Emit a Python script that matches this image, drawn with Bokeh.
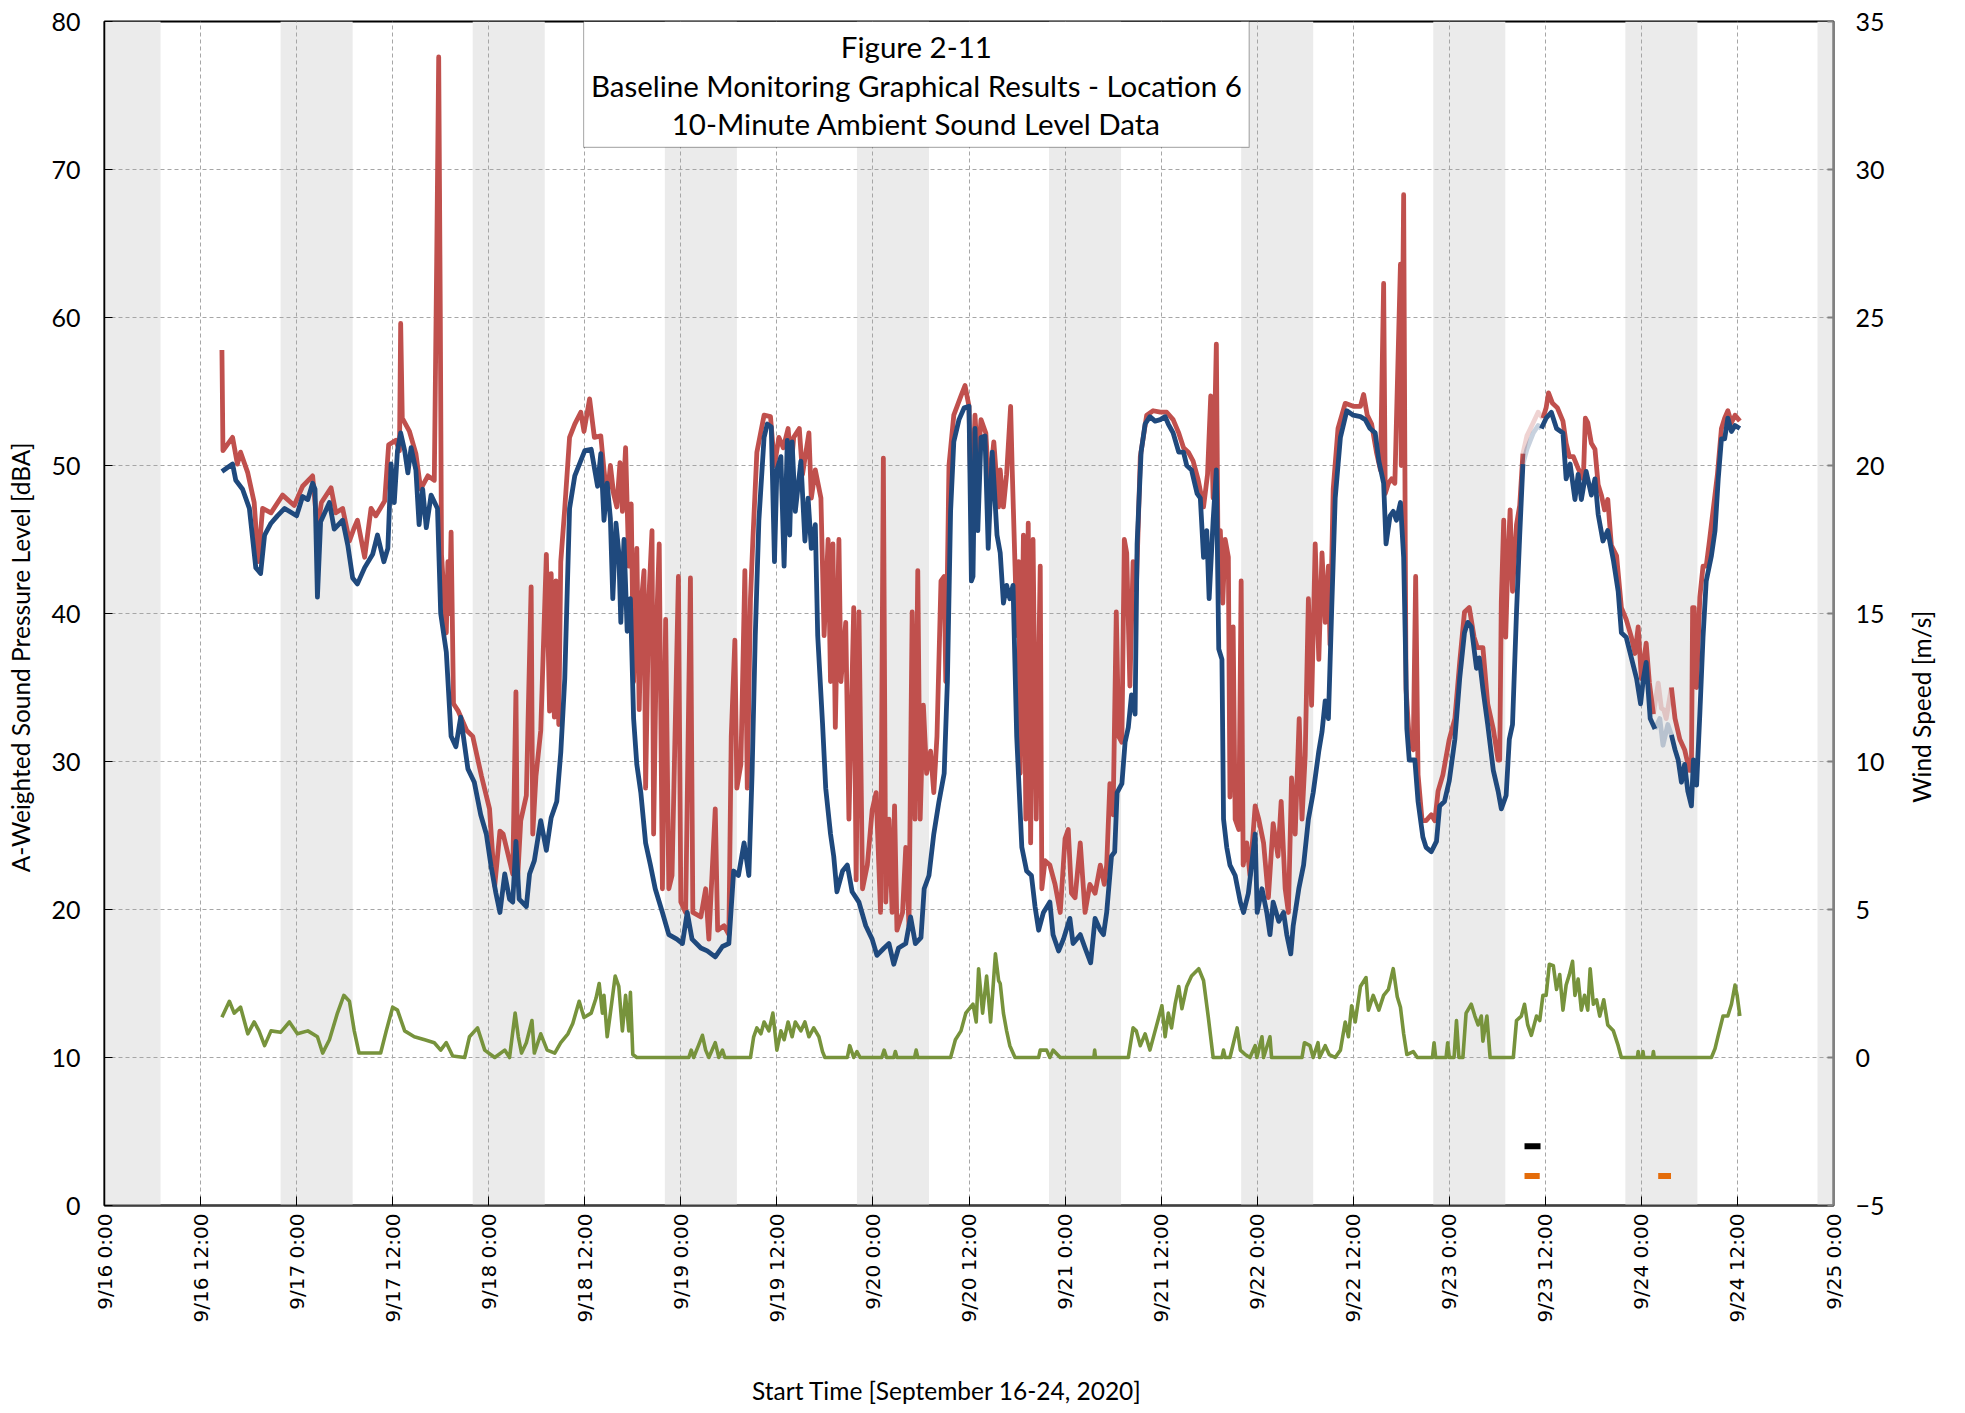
import math
import numpy as np
from bokeh.plotting import figure
from bokeh.layouts import row
from bokeh.models import Range1d, LinearAxis, FixedTicker, BoxAnnotation, Label
from bokeh.embed import file_html
from bokeh.resources import INLINE

# ---------------- data (hours since 9/16 0:00) ----------------
blue_h = [14.67, 16.0, 16.4, 17.25, 18.1, 18.9, 19.5, 20.0, 20.8, 21.6, 22.5, 24.0, 24.75, 25.4, 26.0, 26.3, 26.6, 27.0,
          28.1, 28.7, 29.75, 30.4, 31.0, 31.6, 32.5, 33.5, 34.1, 34.9, 35.4, 35.8, 36.2, 36.6, 37.0, 37.5, 37.9, 38.3,
          38.9, 39.3, 39.75, 40.2, 40.8, 41.6, 42.0, 42.7, 43.3, 43.9, 44.5, 45.4, 46.2, 47.0, 47.7, 48.3, 48.9, 49.4,
          50.0, 50.6, 51.0, 51.4, 51.8, 52.7, 53.1, 53.7, 54.5, 55.2, 55.8, 56.5, 57.0, 57.5, 58.1, 58.75, 60.0, 60.8,
          61.6, 62.0, 62.4, 62.8, 63.2, 63.5, 63.9, 64.25, 64.5, 64.9, 65.3, 65.7, 66.1, 66.5, 67.0, 67.6, 68.2, 68.8,
          69.7, 70.5, 71.5, 72.2, 72.8, 73.4, 74.5, 75.3, 76.3, 77.2, 78.0, 78.6, 79.2, 79.9, 80.5, 80.9, 81.3, 81.75,
          82.4, 82.8, 83.3, 83.7, 84.0, 84.5, 84.9, 85.3, 85.6, 85.9, 86.3, 87.0, 87.5, 87.9, 88.3, 88.8, 89.1, 89.7,
          90.1, 90.7, 91.1, 91.5, 92.2, 92.8, 93.4, 94.25, 95.1, 95.9, 96.5, 97.4, 98.0, 98.6, 99.2, 100.1, 100.7,
          101.3, 102.0, 102.4, 103.0, 103.6, 104.25, 104.9, 105.3, 105.7, 106.1, 106.75, 107.4, 108.0, 108.3, 108.5,
          108.75, 109.1, 109.5, 110.0, 110.4, 110.9, 111.5, 111.9, 112.3, 112.7, 113.1, 113.5, 113.96, 114.6, 115.2,
          115.8, 116.25, 116.7, 117.3, 118.1, 118.5, 119.2, 119.8, 120.6, 121.0, 121.9, 122.5, 123.2, 123.75, 124.4,
          124.8, 125.2, 125.8, 126.2, 126.5, 127.1, 127.5, 127.9, 128.3, 128.75, 129.0, 129.5, 130.0, 130.6, 131.25,
          131.9, 132.5, 132.9, 133.5, 134.2, 134.8, 135.2, 135.8, 136.5, 136.9, 137.3, 137.7, 138.0, 138.5, 138.9,
          139.2, 139.6, 139.8, 140.2, 140.6, 141.25, 141.9, 142.3, 142.9, 143.75, 144.0, 144.6, 145.2, 145.6, 146.0,
          146.7, 147.3, 147.7, 148.2, 148.5, 149.2, 149.8, 150.4, 151.0, 151.7, 152.1, 152.5, 152.9, 153.3, 153.75,
          154.4, 155.2, 156.0, 156.9, 157.5, 158.1, 158.75, 159.2, 159.8, 160.1, 160.6, 161.0, 161.4, 161.9, 162.3,
          162.5, 162.7, 163.0, 163.7, 164.1, 164.7, 165.1, 165.75, 166.4, 166.8, 167.4, 168.0, 168.7, 169.3, 169.9,
          170.3, 170.75, 171.4, 171.75, 172.2, 172.8, 173.5, 174.1, 174.5, 175.1, 175.5, 175.9, 176.4, 176.8, 177.2,
          177.7, 178.5, 179.1, 179.5, 180.1, 180.75, 181.4, 182.2, 182.6, 183.1, 183.7, 184.1, 184.5, 185.1, 185.75,
          186.2, 186.6, 187.2, 187.8, 188.5, 189.1, 189.5, 190.1, 190.75, 191.4, 191.9, 192.25, 192.6, 193.1, 193.7,
          194.3, 194.7, 195.3, 195.75, 196.2, 196.6, 197.0, 197.4, 197.8, 198.25, 198.5, 198.9, 199.3, 199.7, 200.1,
          200.75, 201.2, 201.6, 202.0, 202.4, 202.8, 203.25, 203.7, 204.3]
blue_db = [49.6, 50.1, 49.0, 48.4, 47.1, 43.1, 42.7, 45.3, 46.1, 46.6, 47.1, 46.6, 47.9, 47.7, 48.8, 48.4, 41.1, 46.2,
           47.5, 45.7, 46.3, 44.6, 42.4, 42.0, 43.1, 44.0, 45.3, 43.5, 44.4, 50.1, 47.5, 51.0, 52.2, 51.0, 49.5, 51.2,
           49.7, 46.0, 48.4, 45.8, 48.0, 47.1, 40.0, 37.4, 31.7, 31.0, 33.0, 29.5, 28.6, 26.4, 25.1, 22.9, 21.1, 19.8,
           22.4, 20.7, 20.5, 24.6, 20.7, 20.2, 22.4, 23.3, 26.0, 24.0, 26.2, 27.3, 30.6, 35.6, 47.1, 49.3, 51.0, 51.1,
           48.6, 50.8, 46.3, 48.8, 46.4, 41.0, 46.1, 44.1, 39.4, 45.0, 38.8, 41.0, 32.9, 29.8, 27.9, 24.5, 23.0, 21.4,
           19.8, 18.3, 18.0, 17.7, 19.8, 18.0, 17.4, 17.2, 16.8, 17.5, 17.7, 22.6, 22.3, 24.5, 22.3, 29.2, 38.5, 46.3,
           51.9, 52.8, 52.6, 43.5, 49.7, 50.6, 43.2, 51.7, 45.3, 51.6, 46.9, 50.3, 44.9, 47.8, 44.4, 46.0, 38.5, 32.6,
           28.2, 25.1, 23.6, 21.2, 22.6, 23.0, 21.2, 20.5, 18.9, 18.0, 16.9, 17.4, 17.7, 16.3, 17.4, 17.7, 19.5,
           17.7, 18.1, 21.4, 22.3, 25.1, 27.3, 29.2, 35.4, 46.9, 51.6, 53.1, 53.9, 54.0, 42.2, 42.5,
           52.5, 45.6, 51.9, 52.0, 44.4, 50.9, 45.3, 44.1, 40.7, 41.9, 41.0, 41.9, 31.7, 24.2, 22.6,
           22.3, 20.2, 18.6, 19.8, 20.5, 18.3, 17.2, 18.0, 19.4, 17.7, 18.3, 17.4, 16.4, 19.4, 18.6,
           18.3, 19.8, 23.6, 23.9, 27.9, 28.5, 31.3, 32.3, 34.5, 33.2, 44.7, 50.9, 52.8, 53.3, 53.0,
           53.1, 53.3, 52.8, 52.2, 50.9, 50.9, 50.0, 49.7, 48.1, 47.8, 43.8, 45.6, 41.0, 46.3, 49.7,
           37.6, 36.9, 26.1, 24.2, 23.0, 22.3, 20.5, 19.8, 21.1, 25.1, 19.8, 21.4, 19.8, 18.3, 20.5,
           19.2, 19.8, 18.3, 17.0, 18.9, 21.4, 23.0, 26.1, 27.9, 30.7, 32.0, 34.1, 32.9, 40.1, 47.8,
           51.9, 53.7, 53.4, 53.3, 53.1, 52.5, 52.2, 50.3, 48.8, 44.7, 46.6, 46.9, 46.3, 47.5, 43.8,
           38.4, 32.2, 30.1, 30.1, 27.3, 24.9, 24.2, 23.9, 24.6, 27.0, 27.3, 28.7, 31.5, 35.6, 38.7,
           39.4, 39.1, 36.3, 37.0, 34.9, 32.5, 29.4, 28.0, 26.8, 27.7, 31.5, 32.5, 40.1, 45.3, 50.1,
           51.1, 52.2, 52.7, 52.5, 53.2, 53.6, 52.5, 52.2, 49.1, 50.1, 47.7, 49.4, 47.7, 49.6, 48.0,
           49.1, 46.7, 44.9, 45.6, 43.6, 41.5, 38.7, 38.4, 37.0, 35.6, 33.9, 35.6, 36.7, 32.9, 32.2,
           32.9, 31.1, 32.5, 31.8, 30.8, 30.1, 28.6, 29.8, 28.0, 27.0, 30.1, 28.4, 33.2, 38.4, 42.2,
           43.9, 45.6, 49.1, 51.8, 51.8, 53.2, 52.3, 52.7, 52.5]

red_h = [14.67, 14.8, 16.0, 16.6, 17.0, 17.9, 18.7, 19.2, 19.75, 20.8, 22.25, 23.7, 24.75, 26.0, 26.6, 27.1, 28.3, 28.9,
         29.75, 30.6, 31.2, 31.6, 32.5, 33.3, 33.9, 35.0, 35.5, 36.4, 36.85, 37.0, 37.2, 38.1, 38.9, 39.5, 40.4, 41.2,
         41.5, 41.75, 41.95, 42.1, 42.7, 42.9, 43.1, 43.3, 43.6, 44.2, 45.25, 46.0, 47.1, 48.1, 48.75, 49.4, 49.8, 51.0,
         51.4, 51.6, 52.0, 52.7, 53.3, 53.5, 53.9, 54.5, 55.2, 55.6, 55.8, 56.2, 56.4, 56.75, 57.0, 57.5, 58.1, 58.75,
         59.5, 59.9, 60.6, 61.2, 62.0, 62.4, 62.8, 63.2, 63.6, 64.0, 64.4, 64.7, 65.1, 65.5, 65.8, 66.1, 66.5, 66.8,
         67.1, 67.4, 67.6, 68.0, 68.4, 68.6, 69.0, 69.3, 69.7, 70.1, 70.5, 70.9, 71.7, 72.0, 72.6, 73.2, 73.5, 74.5,
         75.1, 75.5, 76.3, 76.6, 77.4, 78.0, 78.3, 78.75, 79.0, 79.5, 80.0, 80.3, 80.7, 81.0, 81.5, 82.4, 83.2, 83.7,
         84.25, 84.8, 85.4, 85.8, 86.1, 86.8, 87.2, 88.0, 88.3, 88.8, 89.5, 89.9, 90.4, 90.7, 91.0, 91.3, 91.75, 92.0,
         92.6, 93.0, 93.6, 93.9, 94.25, 94.7, 95.3, 95.9, 96.4, 96.95, 97.3, 97.6, 98.0, 98.4, 98.7, 99.0, 99.7,
         100.1, 100.5, 100.9, 101.25, 101.6, 101.9, 102.3, 102.7, 103.2, 103.6, 104.0, 104.5, 104.9, 105.1, 105.5,
         106.1, 107.0, 107.5, 108.0, 108.3, 108.75, 109.1, 109.5, 110.1, 110.5, 111.1, 111.7, 111.9, 112.3, 112.7,
         113.2, 113.4, 113.75, 114.0, 114.2, 114.4, 114.8, 115.1, 115.4, 115.7, 116.0, 116.4, 116.9, 117.1, 117.5,
         118.1, 118.75, 119.4, 120.0, 120.4, 120.8, 121.25, 121.9, 122.5, 123.1, 123.75, 124.4, 124.9, 125.2, 125.6,
         126.0, 126.4, 126.7, 127.1, 127.4, 127.7, 128.1, 128.5, 128.9, 129.4, 130.2, 131.0, 131.9, 132.7, 133.5,
         134.2, 134.8, 135.4, 136.0, 136.6, 137.3, 137.8, 138.2, 138.5, 138.9, 139.1, 139.4, 139.7, 140.0, 140.4,
         140.6, 141.0, 141.25, 141.7, 142.0, 142.25, 142.7, 143.1, 143.75, 144.2, 144.8, 145.4, 146.0, 146.6, 147.0,
         147.5, 147.9, 148.3, 148.75, 149.25, 149.6, 150.0, 150.4, 150.8, 151.25, 151.7, 152.1, 152.5, 152.9, 153.1,
         153.5, 154.1, 155.0, 156.0, 156.9, 157.3, 157.75, 158.3, 158.9, 159.4, 159.8, 160.0, 160.4, 160.8, 161.2,
         161.9, 162.0, 162.3, 162.5, 162.6, 163.0, 163.5, 163.8, 164.1, 164.6, 165.1, 165.75, 166.2, 166.6, 167.2,
         168.0, 168.7, 169.3, 169.9, 170.5, 171.1, 171.5, 172.2, 172.8, 173.5, 174.1, 174.3, 174.5, 174.8, 175.05,
         175.3, 175.6, 175.9, 176.4, 176.8, 177.2, 177.7, 178.5, 179.1, 179.7, 180.1, 180.4, 180.9, 181.5, 182.2,
         182.6, 183.0, 183.5, 184.1, 184.75, 185.0, 185.3, 185.75, 186.2, 186.6, 187.0, 187.4, 187.8, 188.25, 188.9,
         189.5, 190.1, 190.75, 191.2, 191.6, 192.0, 192.6, 193.0, 193.5, 194.1, 194.5, 194.8, 195.1, 195.75, 196.2,
         196.8, 197.4, 198.0, 198.25, 198.4, 198.6, 198.9, 199.3, 199.7, 200.1, 200.5, 200.9, 201.5, 202.0, 202.4,
         202.8, 203.25, 203.7, 204.3]
red_db = [57.8, 51.0, 51.9, 50.1, 50.9, 49.5, 47.5, 43.5, 47.1, 46.8, 48.0, 47.3, 48.6, 49.3, 45.7, 47.5, 48.5, 46.8,
          47.1, 44.9, 45.8, 46.3, 43.8, 47.1, 46.6, 47.6, 51.4, 51.7, 51.0, 59.6, 53.2, 52.3, 50.8, 48.4, 49.3, 49.0,
          63.8, 77.6, 60.2, 44.0, 38.7, 43.5, 40.0, 45.5, 33.9, 33.4, 32.1, 31.7, 29.0, 26.8, 21.6, 25.3, 25.1, 22.4,
          34.7, 22.0, 26.0, 27.7, 41.8, 25.1, 29.0, 32.1, 44.0, 33.4, 42.7, 33.0, 42.2, 32.5, 43.5, 47.1, 51.9, 52.8,
          53.6, 52.3, 54.5, 51.9, 52.0, 49.7, 47.8, 50.0, 48.1, 47.2, 50.2, 46.9, 51.2, 43.2, 47.4, 35.4, 44.4, 33.5,
          41.0, 42.9, 28.2, 41.0, 45.6, 25.1, 39.7, 44.7, 21.4, 39.6, 21.4, 22.3, 42.5, 20.5, 19.8, 42.4, 19.8, 19.5,
          21.4, 18.0, 26.8, 18.6, 18.9, 18.3, 31.7, 38.2, 28.2, 29.8, 42.9, 28.2, 41.0, 45.0, 50.9, 53.4, 53.3, 50.0,
          51.9, 51.2, 52.5, 50.0, 51.9, 52.5, 49.4, 52.2, 47.8, 49.7, 47.8, 38.5, 45.0, 35.4, 44.7, 32.3, 45.0, 35.4,
          39.4, 26.1, 40.4, 22.0, 40.1, 21.4, 23.0, 26.7, 27.9, 19.8, 50.5, 20.5, 26.1, 19.8, 27.0, 18.6, 19.8,
          24.2, 18.9, 40.1, 26.1, 42.9, 26.1, 33.8, 29.2, 30.7, 27.9, 31.7, 42.2, 42.5, 35.4, 50.0,
          53.4, 54.7, 55.4, 54.0, 46.3, 53.4, 50.0, 53.1, 52.2, 48.4, 51.6, 47.2, 49.7, 47.2, 49.4,
          54.0, 49.7, 43.2, 38.5, 43.5, 29.2, 45.3, 26.1, 46.1, 24.5, 45.0, 26.1, 43.2, 21.4, 23.3,
          23.0, 21.7, 19.8, 24.8, 25.4, 21.1, 20.8, 24.5, 19.8, 21.7, 21.1, 23.0, 21.7, 23.0, 28.5,
          26.4, 40.1, 31.7, 31.3, 45.0, 44.1, 35.1, 43.5, 41.6, 50.6, 53.4, 53.7, 53.6, 53.6, 53.1,
          52.2, 51.2, 50.9, 50.3, 49.1, 47.2, 49.4, 54.7, 47.8, 58.2, 44.7, 45.6, 40.7, 45.0, 43.8,
          27.6, 39.1, 26.1, 25.4, 42.2, 23.0, 24.5, 22.3, 27.0, 26.1, 24.5, 20.8, 25.8, 23.6, 27.3,
          21.4, 19.8, 28.9, 25.1, 32.9, 26.1, 30.4, 41.0, 33.8, 44.7, 36.9, 44.1, 39.4, 43.2, 37.9,
          48.4, 52.5, 54.2, 54.0, 54.0, 54.8, 53.4, 52.8, 50.9, 49.7, 62.3, 48.1, 48.8, 49.1, 48.8,
          63.6, 50.0, 68.3, 44.7, 34.9, 31.5, 30.8, 42.5, 29.1, 26.0, 26.0, 26.4, 26.0, 28.0, 29.1,
          31.5, 32.9, 36.7, 40.1, 40.4, 38.4, 37.7, 37.7, 33.9, 32.2, 30.1, 30.1, 40.8, 46.3, 38.4,
          43.2, 47.0, 41.5, 46.0, 47.3, 50.8, 52.0, 52.9, 53.6, 53.2, 53.9, 54.9, 54.2, 53.9, 53.0,
          51.5, 50.6, 50.6, 49.8, 49.1, 53.2, 52.9, 51.5, 51.1, 48.7, 48.0, 47.0, 47.7, 44.6, 43.9,
          40.4, 39.6, 38.4, 37.3, 39.1, 35.6, 38.0, 35.3, 33.2, 35.3, 33.6, 33.5, 32.9, 35.0, 32.9,
          31.5, 30.8, 29.4, 29.4, 40.4, 40.4, 35.0, 41.1, 43.2, 43.2, 44.9, 46.7, 49.4, 52.5, 53.2,
          53.7, 52.9, 53.4, 53.0]

wind_h = [14.67, 15.6, 16.2, 17.0, 17.9, 18.7, 19.3, 20.0, 20.8, 22.0, 23.1, 24.1, 25.4, 26.6, 27.25, 28.1, 29.1, 29.9,
          30.6, 31.2, 31.8, 34.5, 35.2, 36.0, 36.6, 37.5, 38.7, 40.0, 41.2, 42.0, 42.7, 43.5, 45.0, 45.6, 46.6, 47.5,
          48.75, 50.0, 50.6, 51.3, 51.7, 52.1, 52.7, 53.4, 53.7, 54.5, 55.3, 56.25, 57.0, 57.9, 58.5, 59.3, 59.9, 60.8,
          61.4, 61.8, 62.2, 62.4, 62.8, 63.2, 63.8, 64.25, 64.7, 65.1, 65.5, 65.7, 66.0, 66.5, 73.0, 73.3, 73.6, 74.2,
          74.7, 75.1, 75.5, 76.3, 76.75, 77.2, 77.5, 80.7, 81.1, 81.5, 82.0, 82.4, 83.0, 83.5, 84.0, 84.5, 84.9, 85.4,
          85.9, 86.3, 87.0, 87.5, 88.0, 88.6, 89.25, 89.7, 90.0, 92.8, 93.1, 93.6, 94.0, 94.4, 97.1, 97.4, 97.7, 98.6,
          98.8, 99.0, 101.2, 101.4, 101.6, 105.7, 106.3, 107.0, 107.6, 108.5, 108.9, 109.2, 109.7, 110.2, 110.7,
          111.3, 111.7, 111.9, 112.3, 112.7, 113.1, 113.75, 116.7, 116.9, 117.7, 118.1, 118.5, 119.4, 123.6, 123.7,
          123.8, 127.9, 128.5, 128.9, 129.4, 130.0, 130.6, 131.25, 132.1, 132.5, 132.9, 133.3, 133.75, 134.2, 134.6,
          135.2, 135.8, 136.7, 137.3, 137.9, 138.5, 139.6, 139.8, 140.0, 140.6, 141.5, 141.9, 142.5, 143.1, 143.75,
          143.96, 144.6, 144.8, 145.6, 145.8, 149.6, 149.9, 150.6, 151.0, 151.6, 151.8, 152.5, 153.0, 153.75, 154.4,
          155.0, 155.4, 155.8, 156.25, 156.9, 157.6, 157.9, 158.5, 159.2, 159.8, 160.4, 161.0, 161.5, 161.9, 162.3,
          162.7, 163.5, 164.0, 165.9, 166.1, 166.3, 167.6, 167.8, 168.0, 168.6, 168.9, 169.2, 169.7, 170.1, 170.75,
          171.2, 171.6, 172.0, 172.2, 172.7, 173.1, 176.0, 176.4, 177.0, 177.4, 177.8, 178.25, 178.9, 179.3, 179.7,
          180.1, 180.5, 181.0, 181.4, 181.8, 182.2, 182.6, 183.0, 183.4, 183.7, 184.1, 184.5, 184.9, 185.3, 185.6,
          186.0, 186.4, 186.8, 187.3, 187.8, 188.5, 189.1, 189.5, 191.5, 191.6, 191.7, 192.1, 192.2, 192.3, 193.4,
          193.5, 193.6, 200.75, 201.2, 201.6, 202.2, 202.8, 203.25, 203.7, 203.96, 204.3]
wind_ms = [1.36, 1.9, 1.5, 1.7, 0.8, 1.2, 0.9, 0.4, 0.9, 0.85, 1.2, 0.8, 0.9, 0.7, 0.15, 0.6, 1.5, 2.1,
           1.9, 0.9, 0.15, 0.15, 0.9, 1.7, 1.6, 0.9, 0.7, 0.6, 0.5, 0.25, 0.5, 0.05, 0.0, 0.7, 1.0, 0.25,
           0.0, 0.25, 0.0, 1.5, 0.7, 0.15, 0.5, 1.25, 0.15, 0.8, 0.25, 0.15, 0.5, 0.8, 1.15, 1.9, 1.35, 1.5,
           2.0, 2.5, 1.5, 2.1, 0.7, 1.5, 2.75, 2.4, 0.9, 2.1, 0.9, 2.2, 0.1, 0.0, 0.0, 0.25, 0.0, 0.4,
           0.75, 0.25, 0.0, 0.5, 0.0, 0.25, 0.0, 0.0, 0.7, 1.0, 0.8, 1.2, 0.9, 1.5, 0.25, 0.9, 0.6, 1.2,
           0.7, 1.2, 0.9, 1.2, 0.7, 1.0, 0.7, 0.2, 0.0, 0.0, 0.4, 0.0, 0.2, 0.0, 0.0, 0.25, 0.0, 0.0,
           0.2, 0.0, 0.0, 0.25, 0.0, 0.0, 0.6, 0.9, 1.5, 1.8, 1.2, 3.0, 1.5, 2.75, 1.2,
           3.5, 2.6, 2.5, 1.5, 0.9, 0.4, 0.0, 0.0, 0.25, 0.25, 0.0, 0.25, 0.0, 0.0, 0.25,
           0.0, 0.0, 1.0, 0.9, 0.4, 0.8, 0.25, 0.9, 1.75, 0.7, 1.5, 1.0, 1.8, 2.4, 1.65,
           2.4, 2.75, 3.0, 2.6, 1.35, 0.0, 0.0, 0.25, 0.0, 0.0, 1.0, 0.25, 0.1, 0.0, 0.4,
           0.0, 0.7, 0.0, 0.7, 0.0, 0.0, 0.5, 0.4, 0.0, 0.5, 0.0, 0.4, 0.1, 0.0, 0.25,
           1.2, 0.7, 1.75, 1.2, 2.4, 2.7, 1.6, 2.1, 1.6, 2.1, 2.3, 3.0, 2.05, 1.7, 0.8,
           0.1, 0.2, 0.0, 0.0, 0.5, 0.0, 0.0, 0.5, 0.0, 0.0, 1.25, 0.0, 0.0, 1.5, 1.8,
           1.4, 1.1, 1.4, 0.55, 1.4, 0.0, 0.0, 1.25, 1.4, 1.8, 1.1, 0.75, 1.4, 1.25, 2.1,
           2.1, 3.15, 3.1, 2.3, 2.8, 1.6, 2.45, 2.8, 3.25, 2.1, 2.65, 1.6, 2.1, 1.6, 3.0,
           1.8, 1.95, 1.4, 1.95, 1.1, 0.9, 0.4, 0.0, 0.0, 0.2, 0.0, 0.0, 0.2, 0.0, 0.0,
           0.2, 0.0, 0.0, 0.3, 0.75, 1.4, 1.4, 1.8, 2.45, 2.1, 1.4]

# flagged periods (short markers near the bottom)
flag_black_start = [177.4]
flag_black_end = [179.4]
flag_black_level = [4.0]
flag_orange_start = [177.4, 194.1]
flag_orange_end = [179.3, 195.7]
flag_orange_level = [2.0, 2.0]

# night-time shading (22:00 - 07:00)
night_start = [0, 22, 46, 70, 94, 118, 142, 166, 190, 214]
night_end = [7, 31, 55, 79, 103, 127, 151, 175, 199, 216]

tick_hours = list(range(0, 217, 12))
tick_labels = ["9/16 0:00", "9/16 12:00", "9/17 0:00", "9/17 12:00", "9/18 0:00", "9/18 12:00",
               "9/19 0:00", "9/19 12:00", "9/20 0:00", "9/20 12:00", "9/21 0:00", "9/21 12:00",
               "9/22 0:00", "9/22 12:00", "9/23 0:00", "9/23 12:00", "9/24 0:00", "9/24 12:00", "9/25 0:00"]
db_ticks = list(range(0, 81, 10))
wind_ticks = list(range(-5, 36, 5))

title_lines = ["Figure 2-11", "Baseline Monitoring Graphical Results - Location 6",
               "10-Minute Ambient Sound Level Data"]
x_title = "Start Time [September 16-24, 2020]"
y_title = "A-Weighted Sound Pressure Level [dBA]"
y2_title = "Wind Speed [m/s]"

# ---------------- styles ----------------
RED = "#C0504D"
BLUE = "#1F497D"
GREEN = "#77933C"
ORANGE = "#E46C0A"
BAND = "#EBEBEB"
GRID = "#A6A6A6"
FONT = "Lato"
AX_FONT_SIZE = "24.5px"
NB = "\u00a0"   # padding used to nudge the axis titles off-centre like the original

MAIN_W, SIDE_W, H = 1900, 65, 1413

p = figure(width=MAIN_W, height=H, x_range=Range1d(0, 216), y_range=Range1d(0, 80),
           output_backend="svg", toolbar_location=None,
           min_border_left=104, min_border_right=67, min_border_top=21, min_border_bottom=208)
p.extra_y_ranges = {"wind": Range1d(-5, 35)}
p.background_fill_color = "white"
p.border_fill_color = "white"
p.outline_line_color = "black"
p.outline_line_width = 2

# night bands
p.quad(left=night_start, right=night_end, bottom=0, top=80, fill_color=BAND, line_color=None, level="image")

def split_flagged(h, v, starts, ends):
    h = np.asarray(h, float)
    v = np.asarray(v, float)
    flagged = np.zeros(len(h), bool)
    for s, e in zip(starts, ends):
        flagged |= (h >= s) & (h <= e)
    main = np.where(flagged, np.nan, v)
    lm = flagged.copy()
    lm[1:] |= flagged[:-1]
    lm[:-1] |= flagged[1:]
    light = np.where(lm, v, np.nan)
    return h, main, light

rh, rmain, rlight = split_flagged(red_h, red_db, flag_orange_start, flag_orange_end)
bh, bmain, blight = split_flagged(blue_h, blue_db, flag_orange_start, flag_orange_end)

LW = 4.8
p.line(rh, rlight, line_color=RED, line_width=LW, line_alpha=0.25, line_join="round")
p.line(rh, rmain, line_color=RED, line_width=LW, line_join="round")
p.line(bh, blight, line_color=BLUE, line_width=LW, line_alpha=0.25, line_join="round")
p.line(bh, bmain, line_color=BLUE, line_width=LW, line_join="round")
p.line(wind_h, wind_ms, line_color=GREEN, line_width=3.6, line_join="round", y_range_name="wind")

p.segment(x0=flag_black_start, x1=flag_black_end, y0=flag_black_level, y1=flag_black_level,
          line_color="black", line_width=6, line_cap="butt")
p.segment(x0=flag_orange_start, x1=flag_orange_end, y0=flag_orange_level, y1=flag_orange_level,
          line_color=ORANGE, line_width=6, line_cap="butt")

# grids
for g in (p.xgrid, p.ygrid):
    g.grid_line_color = GRID
    g.grid_line_dash = "4 3"
    g.grid_line_width = 1
p.xgrid.ticker = FixedTicker(ticks=tick_hours)
p.ygrid.ticker = FixedTicker(ticks=db_ticks)

# x axis
xa = p.xaxis[0]
xa.ticker = FixedTicker(ticks=tick_hours)
xa.major_label_overrides = {h: lab for h, lab in zip(tick_hours, tick_labels)}
xa.major_label_orientation = math.pi / 2
xa.major_label_text_font = "DejaVu Sans"
xa.major_label_text_font_size = "20px"
xa.major_label_text_color = "black"
xa.major_label_standoff = 8
xa.major_tick_in = 9
xa.major_tick_out = 0
xa.minor_tick_line_color = None
xa.axis_line_color = "#404040"
xa.axis_line_width = 2
xa.major_tick_line_color = "black"
xa.axis_label = x_title + NB * 7
xa.axis_label_text_font = FONT
xa.axis_label_text_font_size = AX_FONT_SIZE
xa.axis_label_text_font_style = "normal"
xa.axis_label_text_color = "black"
xa.axis_label_standoff = 51

# left axis
ya = p.yaxis[0]
ya.ticker = FixedTicker(ticks=db_ticks)
ya.major_label_text_font = FONT
ya.major_label_text_font_size = "25px"
ya.major_label_text_color = "black"
ya.major_label_standoff = 24
ya.major_tick_in = 8
ya.major_tick_out = 0
ya.minor_tick_line_color = None
ya.axis_line_color = "black"
ya.axis_line_width = 1.5
ya.axis_label = y_title + NB * 14
ya.axis_label_text_font = FONT
ya.axis_label_text_font_size = AX_FONT_SIZE
ya.axis_label_text_font_style = "normal"
ya.axis_label_text_color = "black"
ya.axis_label_standoff = 13

# right axis (its title is drawn in the narrow side panel)
ra = LinearAxis(y_range_name="wind", ticker=FixedTicker(ticks=wind_ticks))
ra.major_label_text_font = FONT
ra.major_label_text_font_size = "25px"
ra.major_label_text_color = "black"
ra.major_label_standoff = 22
ra.major_tick_in = 6
ra.major_tick_out = 0
ra.major_tick_line_color = "#808080"
ra.major_tick_line_width = 2
ra.minor_tick_line_color = None
ra.axis_line_color = "#808080"
ra.axis_line_width = 2.5
p.add_layout(ra, "right")

# title box (annotation, positioned in data space)
BOX_LEFT, BOX_RIGHT, BOX_BOTTOM, BOX_TOP = 59.85, 143.0, 71.5, 80.0
p.add_layout(BoxAnnotation(left=BOX_LEFT, right=BOX_RIGHT, bottom=BOX_BOTTOM, top=BOX_TOP,
                           fill_color="white", fill_alpha=1.0, line_color="black", line_width=1.2))
TITLE_X = (BOX_LEFT + BOX_RIGHT) / 2
TITLE_Y = [78.3, 75.7, 73.1]
for txt, ty in zip(title_lines, TITLE_Y):
    p.add_layout(Label(x=TITLE_X, y=ty, text=txt, text_align="center", text_baseline="middle",
                       text_font=FONT, text_font_size="29.5px", text_color="black"))

# narrow side panel carrying the secondary-axis title (reads bottom-to-top, sits below mid-height).
# Its frame is aligned with the main frame by the row layout, so it shares the dB scale.
side = figure(width=SIDE_W, height=H, x_range=Range1d(0, SIDE_W), y_range=p.y_range,
              output_backend="svg", toolbar_location=None, x_axis_location=None, y_axis_location=None,
              min_border=0)
side.outline_line_color = None
side.background_fill_color = "white"
side.border_fill_color = "white"
side.xgrid.visible = False
side.ygrid.visible = False
Y2_TITLE_X, Y2_TITLE_Y = 21, 33.7
side.add_layout(Label(x=Y2_TITLE_X, y=Y2_TITLE_Y, text=y2_title, angle=math.pi / 2, text_align="center",
                      text_baseline="middle", text_font=FONT, text_font_size=AX_FONT_SIZE, text_color="black"))

layout = row(p, side, spacing=0)
open("out.html", "w").write(file_html(layout, INLINE))
